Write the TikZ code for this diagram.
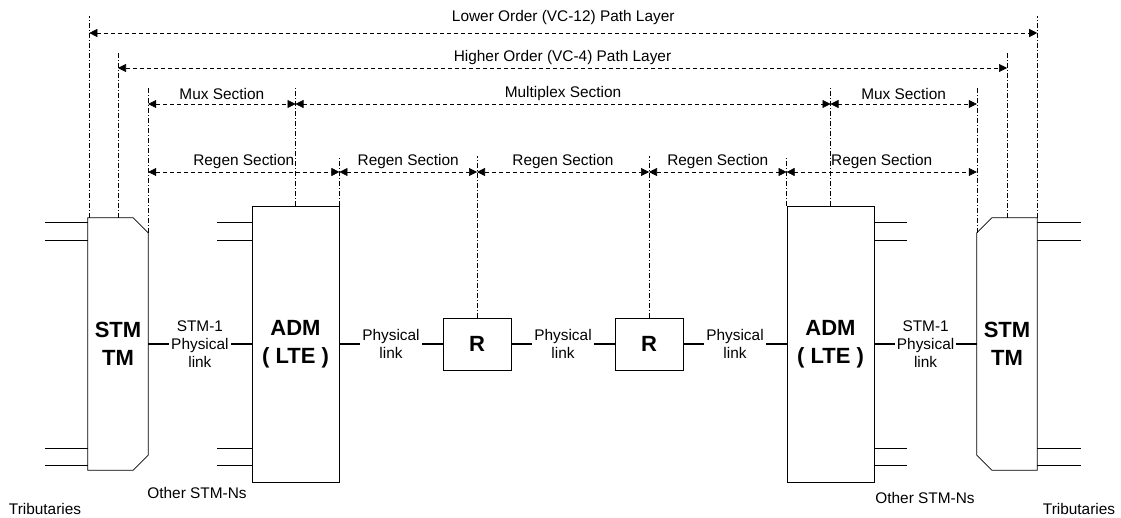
\documentclass[tikz,border=0pt]{standalone}
\usepackage{fontspec}
\setmainfont{Liberation Sans}
\usetikzlibrary{arrows.meta,calc}

\begin{document}
\begin{tikzpicture}[x=1pt,y=-1pt,
  every node/.style={font=\fontsize{15.4}{18}\selectfont, inner sep=0pt},
  unit/.style={draw, line width=0.8pt, align=center,
               font=\fontsize{22}{28}\selectfont\bfseries},
  tmshape/.style={minimum width=60pt, minimum height=252pt, align=center,
               font=\fontsize{22}{28}\selectfont\bfseries},
  guide/.style={line width=0.5pt, dash pattern=on 5pt off 2pt on 1pt off 2pt},
  dim/.style={line width=0.6pt, dash pattern=on 4pt off 3pt,
              {Triangle[length=8pt,width=8pt]}-{Triangle[length=8pt,width=8pt]}},
  link/.style={line width=1.6pt},
  trib/.style={line width=0.7pt},
  linklabel/.style={fill=white, inner xsep=2pt, inner ysep=1pt, align=center}
]
\useasboundingbox (0,0) rectangle (1121,518);

% ---- network elements ----
\node[tmshape] (stmL) at (118,344) {STM\\TM};
\node[tmshape] (stmR) at (1007,344) {STM\\TM};
\node[unit, minimum width=87pt, minimum height=276pt] (admL) at (295.5,344) {ADM\\( LTE )};
\node[unit, minimum width=87pt, minimum height=276pt] (admR) at (830.5,344) {ADM\\( LTE )};
\node[unit, minimum width=68pt, minimum height=52pt] (r1) at (477,344) {R};
\node[unit, minimum width=68pt, minimum height=52pt] (r2) at (649,344) {R};

% terminal multiplexers with chamfered corners
\draw[line width=0.8pt] (stmL.north west) -- ($(stmL.north east)+(-15,0)$)
  -- ($(stmL.north east)+(0,15)$) -- ($(stmL.south east)+(0,-15)$)
  -- ($(stmL.south east)+(-15,0)$) -- (stmL.south west) -- cycle;
\draw[line width=0.8pt] (stmR.north east) -- ($(stmR.north west)+(15,0)$)
  -- ($(stmR.north west)+(0,15)$) -- ($(stmR.south west)+(0,-15)$)
  -- ($(stmR.south west)+(15,0)$) -- (stmR.south east) -- cycle;

% ---- tributary lines ----
\foreach \dy in {5,23} {
  \draw[trib] ($(stmL.north west)+(0,\dy)$) -- ++(-43,0);
  \draw[trib] ($(stmR.north east)+(0,\dy)$) -- ++(44,0);
  \draw[trib] ($(admL.north west)+(0,12+\dy)$) -- ++(-35,0);
  \draw[trib] ($(admR.north east)+(0,12+\dy)$) -- ++(33,0);
}
\foreach \dy in {5,22} {
  \draw[trib] ($(stmL.south west)+(0,-\dy)$) -- ++(-43,0);
  \draw[trib] ($(stmR.south east)+(0,-\dy)$) -- ++(44,0);
  \draw[trib] ($(admL.south west)+(0,-12-\dy)$) -- ++(-35,0);
  \draw[trib] ($(admR.south east)+(0,-12-\dy)$) -- ++(33,0);
}

% ---- physical links ----
\draw[link] (stmL.east) -- (admL.west)
  node[midway, linklabel] {STM-1\\Physical\\link};
\draw[link] (admL.east) -- (r1.west)
  node[midway, linklabel] {Physical\\link};
\draw[link] (r1.east) -- (r2.west)
  node[midway, linklabel] {Physical\\link};
\draw[link] (r2.east) -- (admR.west)
  node[midway, linklabel] {Physical\\link};
\draw[link] (admR.east) -- (stmR.west)
  node[midway, linklabel] {STM-1\\Physical\\link};

% ---- layer boundaries ----
\coordinate (loL) at ($(stmL.north west)+(1.5,0)$);
\coordinate (loR) at (stmR.north east);
\coordinate (hiL) at (stmL.north);
\coordinate (hiR) at (stmR.north);
\coordinate (muxL) at ($(stmL.north east)+(0,15)$);
\coordinate (muxR) at ($(stmR.north west)+(0,15)$);

\draw[guide] (loL) -- (loL |- 0,16);
\draw[guide] (loR) -- (loR |- 0,16);
\draw[guide] (hiL) -- (hiL |- 0,51);
\draw[guide] (hiR) -- (hiR |- 0,51);
\draw[guide] (muxL) -- (muxL |- 0,87);
\draw[guide] (muxR) -- (muxR |- 0,87);
\draw[guide] (admL.north) -- (admL.north |- 0,87);
\draw[guide] (admR.north) -- (admR.north |- 0,87);
\draw[guide] (admL.north east) -- (admL.north east |- 0,156);
\draw[guide] (r1.north) -- (r1.north |- 0,156);
\draw[guide] (r2.north) -- (r2.north |- 0,156);
\draw[guide] (admR.north west) -- (admR.north west |- 0,156);

% ---- span arrows ----
\draw[dim] (loL |- 0,33) -- (loR |- 0,33)
  node[midway, shift={(0,-15)}] {Lower Order (VC-12) Path Layer};
\draw[dim] (hiL |- 0,68) -- (hiR |- 0,68)
  node[midway, shift={(0,-10)}] {Higher Order (VC-4) Path Layer};

\draw[dim] (muxL |- 0,104) -- (admL.north |- 0,104)
  node[midway, shift={(0,-10)}] {Mux Section};
\draw[dim] (admL.north |- 0,104) -- (admR.north |- 0,104)
  node[midway, shift={(0,-10)}] {Multiplex Section};
\draw[dim] (admR.north |- 0,104) -- (muxR |- 0,104)
  node[midway, shift={(0,-10)}] {Mux Section};

\draw[dim] (muxL |- 0,172) -- (admL.north east |- 0,172)
  node[midway, shift={(0,-10)}] {Regen Section};
\draw[dim] (admL.north east |- 0,172) -- (r1.north |- 0,172)
  node[midway, shift={(0,-10)}] {Regen Section};
\draw[dim] (r1.north |- 0,172) -- (r2.north |- 0,172)
  node[midway, shift={(0,-10)}] {Regen Section};
\draw[dim] (r2.north |- 0,172) -- (admR.north west |- 0,172)
  node[midway, shift={(0,-10)}] {Regen Section};
\draw[dim] (admR.north west |- 0,172) -- (muxR |- 0,172)
  node[midway, shift={(0,-10)}] {Regen Section};

% ---- bottom captions ----
\node (tribL) at (45,509) {Tributaries};
\node (tribR) at (1079,509) {Tributaries};
\node (othL) at (197,493) {Other STM-Ns};
\node (othR) at (925,498) {Other STM-Ns};
\end{tikzpicture}
\end{document}
